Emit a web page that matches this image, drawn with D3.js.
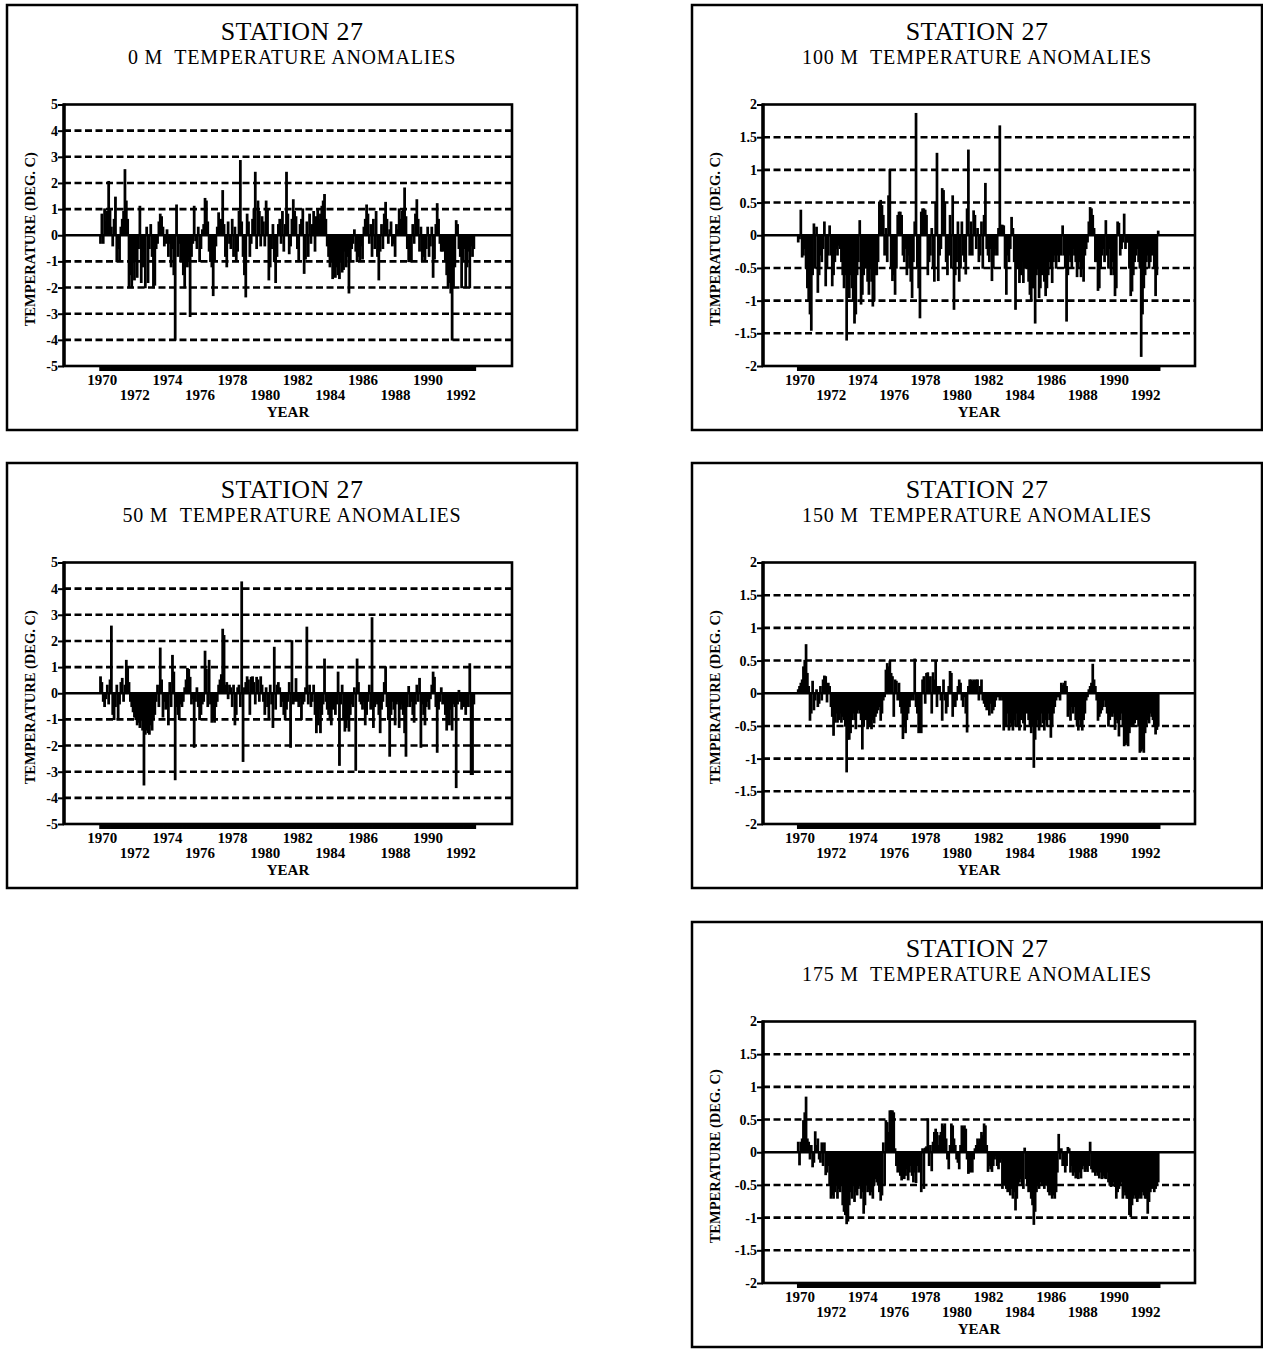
<!DOCTYPE html>
<html>
<head>
<meta charset="utf-8">
<script src="https://cdn.jsdelivr.net/npm/d3@7"></script>
<style>
  html, body { margin: 0; padding: 0; background: #fff; }
  text { font-family: "Liberation Serif", "Times New Roman", serif; fill: #000; }
</style>
</head>
<body>
<svg id="chart" width="1263" height="1349"></svg>
<script>
// ---------------- DATA (monthly anomalies, Jan 1970 .. Dec 1992) ----------------
const stationName = "STATION 27";
const firstYear = 1970;
const yearLabels = [1970, 1972, 1974, 1976, 1978, 1980, 1982, 1984, 1986, 1988, 1990, 1992];
const yTicksWide = [-5, -4, -3, -2, -1, 0, 1, 2, 3, 4, 5];
const yTicksNarrow = [-2, -1.5, -1, -0.5, 0, 0.5, 1, 1.5, 2];

const depth0M = [
 -0.3, 0.8, -0.3, 1.0, 0.5, 0.9, 2.05, 1.0, 0.3, -0.4, 0.6, 1.45,
 -1.0, -0.5, -1.0, 0.3, 0.6, 0.9, 2.5, 1.3, 0.6, -2.0, -1.5, -2.0,
 -1.0, -1.7, -1.0, -1.6, -0.5, 1.1, -1.8, -1.2, -0.6, -2.0, 0.3, -1.8,
 -0.5, 0.4, -0.8, -2.0, -1.9, -0.5, -0.3, 0.5, 0.8, 0.7, 0.3, -0.4,
 -0.3, 0.2, -0.8, -0.3, -1.2, -0.5, -1.5, -4.0, 1.15, -0.8, -0.3, -1.0,
 -0.5, -1.5, -2.0, -1.0, -1.2, -1.0, -3.1, -0.8, -0.3, 1.1, -0.2, -0.5,
 0.3, -1.0, -0.5, 0.2, 0.4, 1.4, 1.3, 0.5, -0.6, -1.0, -1.2, -2.3,
 -1.0, -0.4, 0.3, 0.85, 0.5, 0.6, 1.7, 0.4, -0.8, -1.2, 0.5, -0.3,
 -0.5, 0.6, -0.8, 0.3, -1.0, -0.6, 0.9, 2.85, 0.5, -0.8, -1.5, -2.35,
 0.8, 0.5, -0.8, -0.3, 0.6, 1.0, 2.4, -0.5, 1.3, 0.9, -0.4, 0.7,
 0.5, -0.4, 1.3, 1.0, -1.7, -1.2, -0.5, 0.4, -1.0, -1.8, -0.8, 0.4,
 0.6, -0.3, 0.9, -0.6, 0.4, 2.4, 0.8, -0.7, -0.4, 0.6, 1.35, 0.9,
 0.7, -0.5, -1.0, 0.4, 0.6, 1.0, -1.45, -0.9, 0.5, -0.8, 0.8, -0.3,
 0.4, 0.9, -0.6, 0.7, 1.0, 0.6, 0.8, 1.1, 1.3, 1.55, 0.6, -0.4,
 -0.8, -1.2, -1.0, -1.65, -1.4, -1.6, -1.2, -1.5, -1.65, -1.0, -1.4, -1.3,
 -0.6, -1.2, -0.8, -2.2, -1.0, -0.5, -0.3, 0.2, -0.6, -1.0, -0.8, -1.0,
 -0.4, -0.9, 0.3, 0.6, 1.15, 0.8, -0.3, 0.4, -0.8, 0.6, -0.5, 0.9,
 -0.8, -1.7, -0.6, 0.4, -0.5, 0.8, 1.25, 0.6, -0.3, 0.2, 0.5, -0.4,
 -0.3, -0.8, 0.4, 0.2, 1.0, 0.6, 0.9, 1.0, 1.8, 0.7, -0.5, -1.0,
 -1.0, -1.0, 0.4, -0.3, 0.8, 1.35, 0.6, -0.6, 0.3, -1.0, -0.8, -1.0,
 -0.5, 0.3, -0.8, -0.4, 0.3, -1.6, -0.9, 0.4, 1.2, 0.6, -0.3, -0.6,
 -0.6, -0.4, -1.0, -1.5, -2.0, -1.8, -2.2, -4.0, -2.0, -1.2, 0.55, 0.4,
 -0.5, -0.8, -2.0, -1.0, -0.5, -2.0, -1.2, -0.6, -2.0, -0.4, -0.8, -0.5
];

const depth50M = [
 0.62, 0.4, -0.3, -0.5, -0.2, 0.3, -0.4, 0.5, 2.56, -0.8, -1.0, -0.5,
 0.3, -1.0, -0.4, 0.4, 0.56, -0.3, 0.3, 1.25, 1.0, 0.4, -0.3, -0.5,
 -0.7, -0.9, -1.0, -1.2, -1.1, -1.3, -1.0, -1.4, -3.5, -1.56, -1.4, -1.5,
 -1.56, -1.2, -1.4, -1.0, -0.8, -0.3, 0.3, -0.5, 1.72, 0.5, -0.9, -0.3,
 -0.6, -0.4, -1.2, 0.4, -0.5, 1.44, 0.8, -3.3, -0.5, -0.8, -1.0, -0.4,
 -0.5, -0.3, 0.2, 0.5, 0.94, 0.9, 0.6, -0.4, -0.2, -2.06, -0.3, 0.2,
 -0.5, -1.0, -0.8, -0.4, -0.3, 1.6, 0.9, -0.5, 1.25, -0.4, -1.1, -1.0,
 -1.1, -0.5, -0.3, 0.3, 0.5, 0.7, 2.44, 2.2, 0.3, 0.4, -0.2, 0.3,
 0.2, -0.5, 0.3, -1.2, -0.8, 0.2, 0.3, -0.5, 4.25, -2.6, 0.2, 0.4,
 0.62, 0.5, -0.8, 0.6, 0.62, 0.4, -0.4, 0.6, 0.5, -0.3, 0.62, 0.3,
 -0.3, -0.8, 0.2, -0.5, -1.0, 0.3, -0.4, -1.3, 1.75, -0.6, 0.3, 0.4,
 0.2, -0.5, -0.3, -0.8, -1.0, -0.6, -0.3, 0.4, -2.06, 2.0, -0.4, -0.3,
 0.55, -0.3, -0.5, -0.2, -1.0, -0.4, -0.3, 0.2, 2.52, -0.4, 0.3, -0.5,
 -0.3, 0.3, -0.8, -1.5, -1.2, -0.6, -1.5, -0.8, -0.4, 1.3, -0.3, -0.6,
 -0.8, -1.0, -1.2, -0.6, -0.3, -0.8, -0.4, 0.8, -2.75, -0.4, 0.3, -1.0,
 -1.44, -1.3, -1.0, -1.44, -0.8, -0.4, -0.5, 0.2, -2.94, 1.3, 0.4, -0.3,
 -0.4, -0.6, -0.3, -1.2, -0.8, -0.3, 0.3, -0.6, 2.88, -1.3, -0.5, -0.3,
 -0.4, -0.8, -1.5, -0.6, -0.3, 0.4, 1.0, -0.5, -1.0, -2.4, -0.8, -0.3,
 -0.6, -1.2, -0.4, -0.3, -1.3, -0.6, -0.4, -0.8, -1.5, -2.4, -0.5, 0.25,
 -0.5, -0.3, -0.8, -1.1, -0.4, 0.3, -0.3, 0.56, -2.06, -0.4, -0.8, -1.2,
 -0.5, -0.3, -0.6, -0.2, 0.3, 0.8, 0.6, -0.5, -2.25, -0.6, -0.3, 0.2,
 -0.4, -0.3, -0.8, -1.4, -1.0, -1.2, -0.6, -1.4, -0.4, -0.5, -3.6, -0.4,
 0.1, -0.3, -0.6, -0.4, -0.5, -0.8, -0.4, -0.5, 1.12, -3.1, -3.1, -0.4
];

const depth100M = [
 -0.1, -0.05, 0.38, -0.33, -0.3, -0.2, -0.5, -0.8, -1.0, -1.2, -1.45, -0.6,
 0.17, -0.5, 0.12, -0.87, -0.6, -0.3, -0.4, -0.2, 0.2, -0.77, -0.5, -0.3,
 0.14, -0.3, -0.77, -0.6, -0.4, -0.2, -0.3, -0.15, -0.2, -0.4, -0.6, -0.8,
 -0.6, -1.6, -0.9, -0.95, -0.6, -0.8, -1.0, -1.34, -1.2, -0.6, -0.4, 0.22,
 -1.05, -0.9, -0.6, -0.4, -0.5, -0.7, -0.9, -0.5, -0.7, -1.08, -1.0, -0.6,
 -0.6, -0.4, 0.5, 0.53, 0.45, 0.3, -0.3, 0.1, -0.4, 0.6, 1.0, -0.5,
 -0.69, -0.6, -0.9, -0.5, 0.3, 0.35, 0.35, 0.3, -0.3, -0.4, -0.2, -0.6,
 -0.3, -0.5, -0.7, -0.95, -0.4, 0.2, 1.86, -0.5, -0.8, -1.26, 0.35, 0.4,
 0.4, 0.38, 0.3, -0.6, -0.4, -0.3, 0.1, -0.5, -0.7, 0.5, 1.25, -0.69,
 -0.3, -0.2, 0.71, 0.68, 0.5, -0.4, -0.6, -0.3, 0.3, -0.5, 0.6, -1.13,
 -0.6, -0.4, 0.2, -0.7, -0.5, 0.2, -0.3, -0.4, -0.59, 0.4, 1.3, -0.3,
 0.2, -0.3, 0.37, 0.3, -0.2, 0.1, -0.4, -0.3, 0.2, -0.5, 0.3, 0.79,
 -0.2, -0.3, -0.4, -0.2, -0.69, -0.5, -0.3, -0.2, -0.3, 0.1, 1.67, 0.15,
 0.15, 0.14, -0.5, -0.9, -0.3, -0.4, -0.2, 0.27, 0.1, -0.4, -1.13, -0.5,
 -0.5, -0.72, -0.6, -0.4, -0.72, -0.5, -0.3, -0.5, -0.7, -0.9, -1.0, -0.8,
 -0.8, -1.34, -0.6, -0.5, -0.95, -0.8, -0.6, -0.4, -0.7, -0.92, -0.8, -0.6,
 -0.4, -0.5, -0.72, -0.4, -0.3, -0.5, -0.3, -0.4, -0.2, -0.3, 0.14, -0.3,
 -0.5, -1.31, -0.6, -0.3, -0.4, -0.5, -0.2, -0.3, -0.4, -0.63, -0.5, -0.4,
 -0.63, -0.5, -0.7, -0.3, -0.2, -0.1, 0.2, 0.42, 0.4, 0.3, 0.1, -0.4,
 -0.4, -0.84, -0.8, -0.5, -0.3, -0.2, -0.4, 0.22, -0.3, -0.5, -0.2, -0.6,
 -0.4, -0.6, -0.92, -0.8, 0.2, 0.18, -0.3, -0.2, -0.1, 0.32, -0.2, -0.1,
 -0.1, -0.5, -0.92, -0.85, -0.6, -0.4, -0.3, -0.2, -0.4, -0.5, -1.85, -1.2,
 -0.8, -0.6, -0.4, -0.3, -0.5, -0.4, -0.3, -0.2, -0.5, -0.92, -0.6, 0.06
];

const depth150M = [
 0.05, 0.1, 0.15, 0.2, 0.4, 0.5, 0.74, 0.3, 0.1, -0.41, -0.3, 0.18,
 -0.25, -0.1, 0.05, -0.2, -0.15, 0.1, -0.1, 0.2, 0.26, 0.25, -0.13, 0.15,
 0.1, -0.2, -0.35, -0.64, -0.44, -0.3, -0.44, -0.4, -0.3, -0.44, -0.35, -0.4,
 -0.5, -1.2, -0.7, -0.7, -0.6, -0.4, -0.3, -0.4, -0.54, -0.3, -0.25, -0.3,
 -0.4, -0.85, -0.5, -0.3, -0.4, -0.54, -0.45, -0.5, -0.54, -0.4, -0.45, -0.35,
 -0.3, -0.25, -0.2, -0.41, -0.3, -0.1, -0.05, 0.35, 0.45, 0.4, 0.49, 0.3,
 0.25, -0.35, 0.2, 0.18, -0.1, 0.15, -0.2, -0.3, -0.69, -0.5, -0.6, -0.4,
 -0.3, -0.2, -0.1, -0.05, -0.1, 0.52, -0.2, -0.3, -0.6, -0.4, -0.6, 0.2,
 0.25, -0.15, 0.3, 0.31, 0.2, 0.25, -0.3, 0.31, 0.2, 0.49, -0.2, 0.1,
 0.1, -0.1, -0.41, 0.2, -0.1, -0.3, -0.2, 0.1, 0.33, 0.3, -0.35, -0.1,
 -0.2, -0.1, 0.1, 0.2, 0.15, -0.1, -0.2, -0.05, -0.3, -0.59, 0.1, 0.2,
 0.2, 0.18, 0.2, 0.15, 0.2, 0.2, -0.1, 0.1, 0.2, -0.1, -0.15, -0.2,
 -0.25, -0.2, -0.33, -0.15, -0.3, -0.25, -0.2, -0.1, -0.05, -0.05, -0.1, -0.05,
 -0.1, -0.56, -0.4, -0.5, -0.3, -0.56, -0.45, -0.5, -0.56, -0.4, -0.5, -0.3,
 -0.5, -0.56, -0.4, -0.3, -0.45, -0.56, -0.2, -0.3, -0.4, -0.5, -0.6, -0.5,
 -1.13, -0.7, -0.5, -0.4, -0.56, -0.5, -0.3, -0.45, -0.56, -0.4, -0.5, -0.3,
 -0.4, -0.67, -0.5, -0.3, -0.2, -0.1, -0.05, -0.05, -0.1, 0.15, 0.12, 0.15,
 0.18, 0.1, -0.35, -0.25, -0.41, -0.2, -0.3, -0.2, -0.4, -0.5, -0.56, -0.4,
 -0.5, -0.56, -0.4, -0.3, -0.1, -0.05, 0.05, 0.1, 0.15, 0.44, 0.2, 0.1,
 -0.1, -0.41, -0.35, -0.3, -0.25, -0.2, -0.1, -0.2, -0.3, -0.5, -0.4, -0.3,
 -0.35, -0.3, -0.55, -0.4, -0.45, -0.65, -0.4, -0.3, -0.5, -0.8, -0.78, -0.75,
 -0.8, -0.6, -0.5, -0.4, -0.5, -0.45, -0.3, -0.4, -0.5, -0.9, -0.88, -0.85,
 -0.9, -0.6, -0.5, -0.4, -0.45, -0.3, -0.35, -0.4, -0.5, -0.62, -0.55, -0.5
];

const depth175M = [
 0.15, -0.19, 0.15, 0.2, 0.48, 0.6, 0.84, 0.2, 0.15, -0.1, 0.1, -0.22,
 -0.15, 0.31, 0.1, 0.2, -0.1, -0.15, 0.14, -0.2, 0.14, -0.34, -0.3, -0.2,
 -0.5, -0.7, -0.65, -0.7, -0.6, -0.5, -0.7, -0.55, -0.6, -0.5, -0.8, -0.9,
 -0.95, -1.09, -1.05, -0.8, -0.6, -0.7, -0.5, -0.75, -0.6, -0.65, -0.55, -0.5,
 -0.7, -0.6, -0.93, -0.8, -0.5, -0.6, -0.55, -0.65, -0.6, -0.7, -0.5, -0.4,
 -0.45, -0.5, -0.6, -0.73, -0.65, 0.14, -0.5, 0.48, 0.45, 0.3, 0.63, 0.63,
 0.63, 0.6, 0.05, -0.2, -0.3, -0.25, -0.35, -0.42, -0.3, -0.4, -0.35, -0.25,
 -0.42, -0.3, -0.2, -0.35, -0.45, -0.3, -0.46, -0.2, -0.3, -0.1, -0.6, 0.05,
 -0.55, 0.06, 0.08, 0.51, -0.2, 0.1, -0.28, 0.15, 0.3, 0.35, 0.3, 0.1,
 0.25, 0.3, 0.43, 0.4, 0.43, 0.2, -0.1, -0.25, 0.1, 0.43, 0.4, 0.2,
 0.1, -0.1, -0.15, -0.25, 0.1, 0.4, 0.38, 0.4, 0.35, -0.1, -0.32, -0.3,
 -0.2, -0.3, -0.1, 0.05, 0.1, 0.2, 0.15, 0.2, 0.3, 0.25, 0.43, 0.4,
 0.1, -0.29, -0.2, -0.25, -0.29, -0.2, -0.1, -0.05, -0.2, -0.25, -0.15, -0.1,
 -0.55, -0.5, -0.45, -0.55, -0.6, -0.5, -0.65, -0.55, -0.7, -0.6, -0.88, -0.7,
 -0.5, -0.45, -0.4, -0.5, -0.55, 0.06, -0.4, -0.5, -0.6, -0.55, -0.7, -0.8,
 -1.1, -0.9, -0.6, -0.5, -0.55, -0.45, -0.5, -0.4, -0.55, -0.5, -0.45, -0.6,
 -0.65, -0.6, -0.7, -0.65, -0.7, -0.6, -0.3, 0.27, -0.1, 0.05, -0.2, -0.1,
 -0.3, -0.2, 0.07, 0.05, -0.3, -0.2, -0.35, -0.3, -0.39, -0.35, -0.4, -0.3,
 -0.39, -0.25, -0.2, -0.29, -0.25, -0.29, -0.2, 0.15, -0.25, -0.3, -0.29, -0.35,
 -0.3, -0.35, -0.39, -0.3, -0.4, -0.35, -0.39, -0.4, -0.3, -0.45, -0.5, -0.52,
 -0.5, -0.45, -0.52, -0.7, -0.6, -0.55, -0.5, -0.45, -0.7, -0.6, -0.65, -0.7,
 -0.7, -0.95, -0.98, -0.8, -0.7, -0.65, -0.7, -0.75, -0.7, -0.65, -0.7, -0.6,
 -0.65, -0.7, -0.7, -0.93, -0.75, -0.6, -0.55, -0.5, -0.6, -0.55, -0.5, -0.45
];

// ---------------- LAYOUT ----------------
const panels = [
  { x: 7,   y: 5,   depth: "0 M",   values: depth0M,   ticks: yTicksWide,   lim: 5, left: 57, right: 505 },
  { x: 692, y: 5,   depth: "100 M", values: depth100M, ticks: yTicksNarrow, lim: 2, left: 71, right: 503 },
  { x: 7,   y: 463, depth: "50 M",  values: depth50M,  ticks: yTicksWide,   lim: 5, left: 57, right: 505 },
  { x: 692, y: 463, depth: "150 M", values: depth150M, ticks: yTicksNarrow, lim: 2, left: 71, right: 503 },
  { x: 692, y: 922, depth: "175 M", values: depth175M, ticks: yTicksNarrow, lim: 2, left: 71, right: 503 }
];

const BOX_W = 570, BOX_H = 425;
const PLOT_TOP = 99.5, PLOT_BOTTOM = 361;

const svg = d3.select("#chart");
svg.append("rect").attr("width", 1263).attr("height", 1349).attr("fill", "#fff");

panels.forEach(p => {
  const g = svg.append("g").attr("transform", `translate(${p.x},${p.y})`);

  // outer box
  g.append("rect").attr("x", 0).attr("y", 0).attr("width", BOX_W).attr("height", BOX_H)
    .attr("fill", "none").attr("stroke", "#000").attr("stroke-width", 2.5);

  // titles
  g.append("text").attr("x", BOX_W / 2).attr("y", 35).attr("text-anchor", "middle")
    .style("font-size", "26px").style("letter-spacing", "0.4px").text(stationName);
  g.append("text").attr("x", BOX_W / 2).attr("y", 59).attr("text-anchor", "middle")
    .style("font-size", "20px").style("letter-spacing", "0.8px").style("white-space", "pre")
    .text(p.depth + "  TEMPERATURE ANOMALIES");

  const x = d3.scaleLinear().domain([1967.8, 1995.3]).range([p.left, p.right]);
  const y = d3.scaleLinear().domain([-p.lim, p.lim]).range([PLOT_BOTTOM, PLOT_TOP]);

  // dashed grid lines
  const grid = p.ticks.filter(t => t !== 0 && Math.abs(t) !== p.lim);
  g.append("g").selectAll("line").data(grid).join("line")
    .attr("x1", p.left).attr("x2", p.right)
    .attr("y1", d => y(d)).attr("y2", d => y(d))
    .attr("stroke", "#000").attr("stroke-width", 2.6)
    .attr("stroke-dasharray", "7,3.5");

  // bars
  const data = p.values.map((v, i) => ({ t: firstYear + i / 12, v }));
  g.append("g").selectAll("rect").data(data).join("rect")
    .attr("x", d => x(d.t))
    .attr("width", d => x(d.t + 1 / 12) - x(d.t))
    .attr("y", d => y(Math.max(0, d.v)))
    .attr("height", d => Math.abs(y(d.v) - y(0)))
    .attr("fill", "#000").attr("stroke", "#000").attr("stroke-width", 1.4);

  // zero line
  g.append("line").attr("x1", p.left).attr("x2", p.right)
    .attr("y1", y(0)).attr("y2", y(0))
    .attr("stroke", "#000").attr("stroke-width", 2.6);

  // frame
  g.append("rect").attr("x", p.left).attr("y", PLOT_TOP)
    .attr("width", p.right - p.left).attr("height", PLOT_BOTTOM - PLOT_TOP)
    .attr("fill", "none").attr("stroke", "#000").attr("stroke-width", 2.6);
  g.append("line").attr("x1", p.left).attr("x2", p.left)
    .attr("y1", PLOT_TOP - 1).attr("y2", PLOT_BOTTOM + 1)
    .attr("stroke", "#000").attr("stroke-width", 3.4);

  // y axis
  const yAxis = d3.axisLeft(y).tickValues(p.ticks).tickSize(6).tickPadding(0)
    .tickFormat(d => String(Math.round(d * 10) / 10));
  const ya = g.append("g").attr("transform", `translate(${p.left},0)`).call(yAxis);
  ya.select(".domain").remove();
  ya.selectAll("line").attr("stroke", "#000").attr("stroke-width", 2);
  ya.selectAll("text").style("font-size", "14px").style("font-weight", "bold")
    .style("font-family", '"Liberation Serif", serif').attr("fill", "#000");

  // monthly tick strip along the bottom
  const months = d3.range(0, p.values.length + 1).map(i => firstYear + i / 12);
  const xa = g.append("g").attr("transform", `translate(0,${PLOT_BOTTOM})`)
    .call(d3.axisBottom(x).tickValues(months).tickSize(5).tickFormat(""));
  xa.select(".domain").remove();
  xa.selectAll("line").attr("stroke", "#000").attr("stroke-width", 2.2);

  // year labels (two staggered rows)
  g.append("g").selectAll("text").data(yearLabels).join("text")
    .attr("x", d => x(d + 0.15))
    .attr("y", d => ((d - firstYear) % 4 === 0) ? 380 : 395)
    .attr("text-anchor", "middle")
    .style("font-size", "15px").style("font-weight", "bold")
    .text(d => d);

  g.append("text").attr("x", (p.left + p.right) / 2).attr("y", 412)
    .attr("text-anchor", "middle").style("font-size", "15px").style("font-weight", "bold")
    .text("YEAR");

  g.append("text")
    .attr("transform", `translate(28,${(PLOT_TOP + PLOT_BOTTOM) / 2 + 4}) rotate(-90)`)
    .attr("text-anchor", "middle").style("font-size", "14.5px").style("font-weight", "bold")
    .text("TEMPERATURE (DEG. C)");
});
</script>
</body>
</html>
